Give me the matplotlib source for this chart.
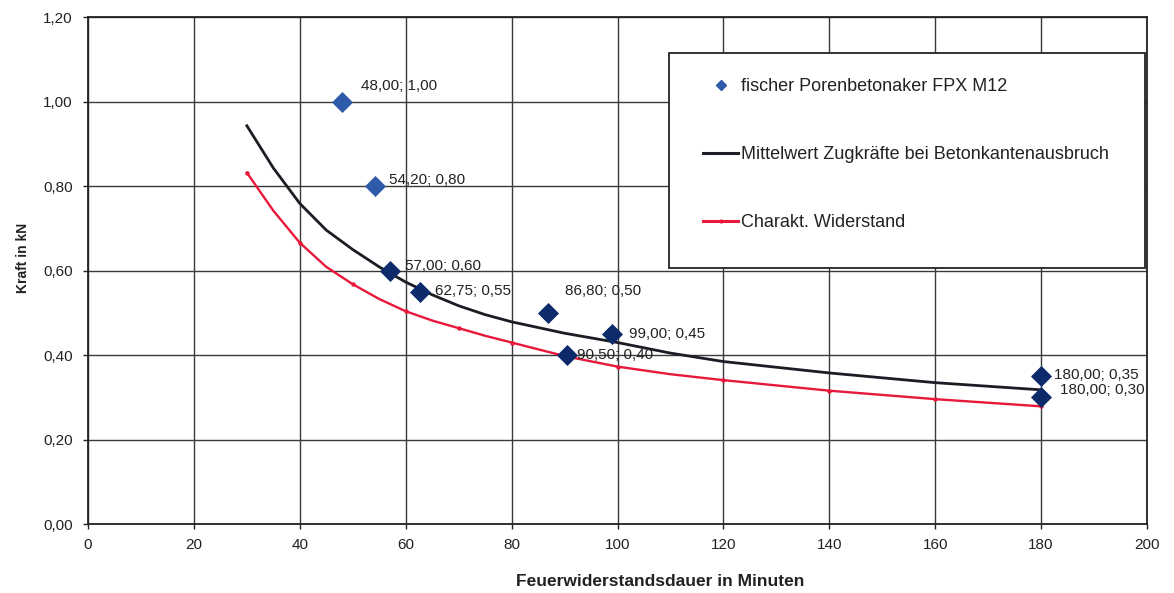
import matplotlib
matplotlib.use("Agg")
import matplotlib.pyplot as plt
from matplotlib.ticker import FuncFormatter
from matplotlib.lines import Line2D
from matplotlib.patches import Rectangle

plt.rcParams['font.family'] = ['Liberation Sans', 'DejaVu Sans']

# Measured points (fischer Porenbetonanker FPX M12)
pts_x = [48.00, 54.20, 57.00, 62.75, 86.80, 99.00, 90.50, 180.00, 180.00]
pts_y = [1.00, 0.80, 0.60, 0.55, 0.50, 0.45, 0.40, 0.35, 0.30]
pts_lbl = ["48,00; 1,00", "54,20; 0,80", "57,00; 0,60", "62,75; 0,55", "86,80; 0,50",
           "99,00; 0,45", "90,50; 0,40", "180,00; 0,35", "180,00; 0,30"]
pts_col = ["#2f5ba8", "#2f5ba8", "#0d2a6b", "#0d2a6b", "#0d2a6b",
           "#0d2a6b", "#0d2a6b", "#0d2a6b", "#0d2a6b"]
lbl_off = [(19, 16), (14, 6), (15, 5), (15, 1), (17, 22), (17, 0), (10, 0), (13, 1), (19, 7)]

# Mean curve (Mittelwert)
mean_x = [30, 35, 40, 45, 50, 55, 60, 65, 70, 75, 80, 90, 100, 110, 120, 140, 160, 180]
mean_y = [0.943, 0.843, 0.759, 0.696, 0.650, 0.609, 0.573, 0.543, 0.517, 0.496, 0.479,
          0.452, 0.430, 0.405, 0.385, 0.358, 0.335, 0.318]

# Characteristic resistance (Charakt. Widerstand)
char_x = [30, 35, 40, 45, 50, 55, 60, 65, 70, 75, 80, 90, 100, 110, 120, 140, 160, 180]
char_y = [0.832, 0.742, 0.666, 0.609, 0.568, 0.533, 0.504, 0.482, 0.464, 0.446, 0.430,
          0.398, 0.373, 0.355, 0.341, 0.316, 0.296, 0.279]

fig = plt.figure(figsize=(11.74, 5.93), dpi=100)
ax = fig.add_axes([0.075, 0.116, 0.902, 0.855])

ax.set_xlim(0, 200)
ax.set_ylim(0, 1.2)
ax.set_xticks(range(0, 201, 20))
ax.set_yticks([0, 0.2, 0.4, 0.6, 0.8, 1.0, 1.2])
ax.yaxis.set_major_formatter(FuncFormatter(lambda v, p: f"{v:.2f}".replace(".", ",")))
ax.grid(True, color="#3a3a3a", linewidth=1.0)
ax.set_axisbelow(True)
for s in ax.spines.values():
    s.set_color("#222222")
    s.set_linewidth(1.3)
ax.tick_params(labelsize=11, colors="#222222", length=3.6, width=1.0)
ax.tick_params(axis='y', pad=7.5)
ax.tick_params(axis='x', pad=6)

ax.plot(mean_x, mean_y, color="#1c1c24", linewidth=2.0, zorder=3)
ax.plot(char_x, char_y, color="#e8183a", linewidth=1.7, zorder=3)
ax.plot(char_x, char_y, linestyle='none', marker='o', markersize=2.2, color="#e8183a",
        markevery=[0, 2, 4, 6, 8, 10, 11, 12, 14, 15, 16, 17], zorder=3)

for x, y, c in zip(pts_x, pts_y, pts_col):
    ax.scatter([x], [y], marker='D', s=115, color=c, zorder=4, linewidths=0)
for x, y, t, o in zip(pts_x, pts_y, pts_lbl, lbl_off):
    ax.annotate(t, (x, y), xytext=o, textcoords='offset pixels', fontsize=11,
                color="#222222", va='center', ha='left', zorder=5)

ax.set_xlabel("Feuerwiderstandsdauer in Minuten", fontsize=12.5, fontweight='bold',
              color="#222222")
ax.xaxis.set_label_coords(0.540, -0.098)
ax.set_ylabel("Kraft in kN", fontsize=10, fontweight='bold', color="#222222")
ax.yaxis.set_label_coords(-0.055, 0.525)

# legend frame
frame = Rectangle((0.5486, 0.505), 0.4495, 0.424, transform=ax.transAxes,
                  facecolor='white', edgecolor='#222222', linewidth=1.3, zorder=6)
ax.add_patch(frame)

handles = [
    Line2D([], [], linestyle='none', marker='D', markersize=5, color="#2f5ba8"),
    Line2D([], [], color="#1c1c24", linewidth=2.2),
    Line2D([], [], color="#e8183a", linewidth=2.2, marker='o', markersize=2),
]
labels = ["fischer Porenbetonaker FPX M12",
          "Mittelwert Zugkräfte bei Betonkantenausbruch",
          "Charakt. Widerstand"]
leg = ax.legend(handles, labels, loc='upper left', bbox_to_anchor=(0.5807, 0.880),
                fontsize=13, frameon=False, handlelength=1.95, handletextpad=0.15,
                labelspacing=2.83, borderpad=0, borderaxespad=0)
leg.set_zorder(7)
for t in leg.get_texts():
    t.set_color("#222222")

fig.savefig("out.png", dpi=100, facecolor="white")
